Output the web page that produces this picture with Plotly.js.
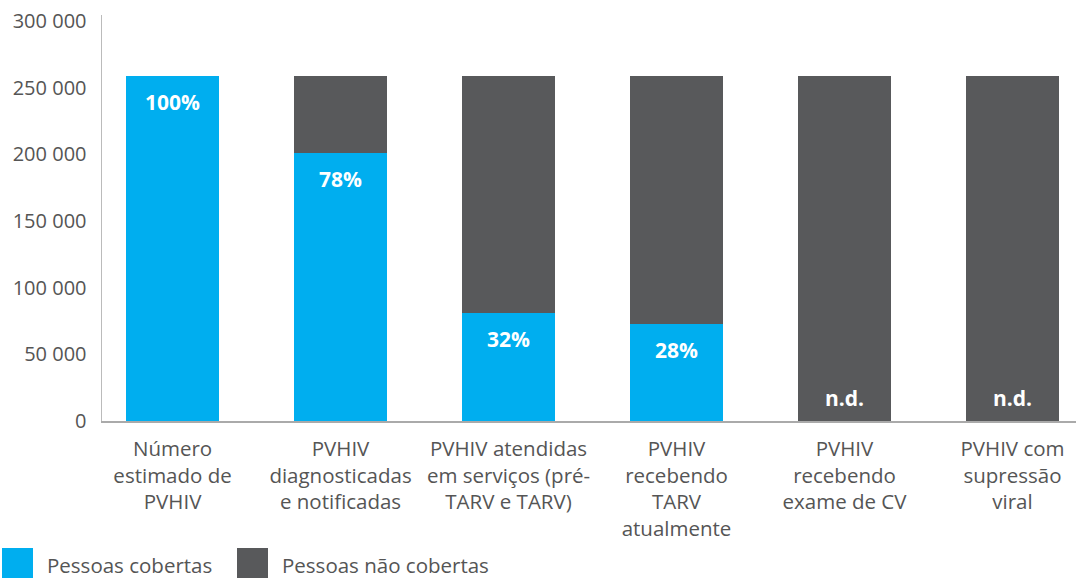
<!DOCTYPE html>
<html><head><meta charset="utf-8">
<script src="https://cdn.plot.ly/plotly-3.0.1.min.js"></script>
<style>html,body{margin:0;padding:0;background:#fff}#chart{width:1076px;height:578px}</style>
</head><body><div id="chart"></div>
<script>
const categories = ["Número<br>estimado de<br>PVHIV","PVHIV<br>diagnosticadas<br>e notificadas","PVHIV atendidas<br>em serviços (pré-<br>TARV e TARV)","PVHIV<br>recebendo<br>TARV<br>atualmente","PVHIV<br>recebendo<br>exame de CV","PVHIV com<br>supressão<br>viral"];
const totalPVHIV = [259000,259000,259000,259000,259000,259000];
const covered = [259000,201000,81000,73000,0,0];
const coveredLabels = ["100%","78%","32%","28%",null,null];
const ndLabels = [null,null,null,null,"n.d.","n.d."];
const seriesNames = ["Pessoas cobertas","Pessoas não cobertas"];
const yTicks = [0,50000,100000,150000,200000,250000,300000];
const yTickText = ["0","50 000","100 000","150 000","200 000","250 000","300 000"];

const W=1076,H=578,ML=102,MR=0,MT=15,MB=157;
const BLUE="#00AEEF",GRAY="#58595B";
const FONT="'Open Sans', Lato, sans-serif";
const xIdx = categories.map((c,i)=>i);
const uncovered = totalPVHIV.map((t,i)=>t-covered[i]);

const traces = [
 {type:'bar',x:xIdx,y:covered,name:seriesNames[0],marker:{color:BLUE},hoverinfo:'none',showlegend:false},
 {type:'bar',x:xIdx,y:uncovered,name:seriesNames[1],marker:{color:GRAY},hoverinfo:'none',showlegend:false}
];
const px = x => (x-ML)/(W-ML-MR);
const py = y => (H-MB-y)/(H-MT-MB);
const annotations = [];
coveredLabels.forEach((t,i)=>{ if(t) annotations.push({x:i,y:covered[i],xref:'x',yref:'y',text:'<b>'+t+'</b>',showarrow:false,yanchor:'middle',yshift:-26,font:{family:FONT,size:21,color:'#fff'}});});
ndLabels.forEach((t,i)=>{ if(t) annotations.push({x:i,y:0,xref:'x',yref:'y',text:'<b>'+t+'</b>',showarrow:false,yanchor:'middle',yshift:23,font:{family:FONT,size:21,color:'#fff'}});});
const legX=[[2,33,45],[237,268,280]];
const colors=[BLUE,GRAY];
const shapes=[];
seriesNames.forEach((n,i)=>{
 shapes.push({type:'rect',xref:'paper',yref:'paper',x0:px(legX[i][0]),x1:px(legX[i][1]),y0:py(548),y1:py(580),fillcolor:colors[i],line:{width:0}});
 annotations.push({xref:'paper',yref:'paper',x:px(legX[i][2]),y:py(565),xanchor:'left',yanchor:'middle',text:n,showarrow:false,font:{family:FONT,size:20.5,color:'#555'}});
});
const layout={
 width:W,height:H,margin:{l:ML,r:MR,t:MT,b:MB},barmode:'stack',bargap:0.446,
 paper_bgcolor:'#fff',plot_bgcolor:'#fff',showlegend:false,
 xaxis:{type:'linear',range:[-0.42,5.378],tickvals:xIdx,ticktext:categories,showgrid:false,zeroline:false,
   showline:true,linecolor:'#aaa',linewidth:1.5,ticks:'',tickfont:{family:FONT,size:20.5,color:'#555'},ticklabelstandoff:9,fixedrange:true},
 yaxis:{range:[0,304500],tickvals:yTicks,ticktext:yTickText,showgrid:false,zeroline:false,showline:true,
   linecolor:'#bbb',linewidth:1.5,ticks:'',tickfont:{family:FONT,size:20,color:'#555'},ticklabelstandoff:10},
 annotations:annotations,shapes:shapes,
 font:{family:FONT}
};
Plotly.newPlot('chart',traces,layout,{displayModeBar:false,staticPlot:true});
</script></body></html>
